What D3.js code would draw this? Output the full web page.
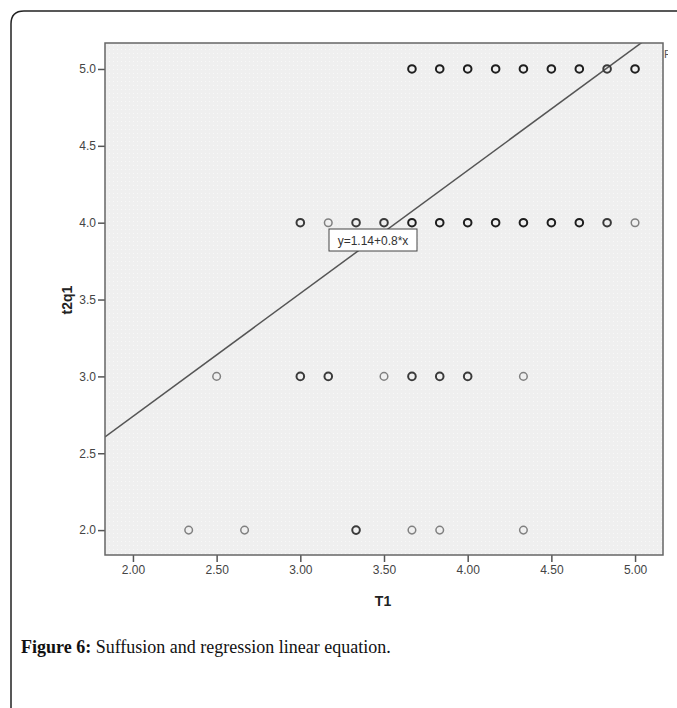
<!DOCTYPE html>
<html>
<head>
<meta charset="utf-8">
<script src="https://cdn.jsdelivr.net/npm/d3@7"></script>
<style>
  html, body { margin: 0; padding: 0; background: #fff; }
  svg { display: block; }
</style>
</head>
<body>
<svg id="chart" width="677" height="708"></svg>
<script>
// ---- Data ----
const yTickValues = [2.0, 2.5, 3.0, 3.5, 4.0, 4.5, 5.0];
const xTickValues = [2.0, 2.5, 3.0, 3.5, 4.0, 4.5, 5.0];
const xDomain = [1.833, 5.167];
const yDomain = [1.838, 5.169];

// T1 values of points per t2q1 level, with estimated overlap counts
const t1AtY5 = [3.667, 3.833, 4.0, 4.167, 4.333, 4.5, 4.667, 4.833, 5.0];
const nAtY5  = [3, 3, 4, 3, 4, 3, 3, 2, 3];
const t1AtY4 = [3.0, 3.167, 3.333, 3.5, 3.667, 3.833, 4.0, 4.167, 4.333, 4.5, 4.667, 4.833, 5.0];
const nAtY4  = [2, 1, 2, 2, 3, 3, 4, 3, 4, 3, 3, 2, 1];
const t1AtY3 = [2.5, 3.0, 3.167, 3.5, 3.667, 3.833, 4.0, 4.333];
const nAtY3  = [1, 2, 2, 1, 2, 2, 2, 1];
const t1AtY2 = [2.333, 2.667, 3.333, 3.667, 3.833, 4.333];
const nAtY2  = [1, 1, 2, 1, 1, 1];

const intercept = 1.14, slope = 0.8;
const eqLabel = "y=1.14+0.8*x";
const xTitle = "T1", yTitle = "t2q1";
const captionBold = "Figure 6:", captionText = " Suffusion and regression linear equation.";

const points = [];
[[5, t1AtY5, nAtY5], [4, t1AtY4, nAtY4], [3, t1AtY3, nAtY3], [2, t1AtY2, nAtY2]].forEach(([yv, xs, ns]) => {
  xs.forEach((xv, i) => points.push({x: xv, y: yv, n: ns[i]}));
});

// ---- Layout ----
const svg = d3.select("#chart");
const L = 105, R = 663, T = 43, B = 555;
const x = d3.scaleLinear().domain(xDomain).range([L, R]);
const y = d3.scaleLinear().domain(yDomain).range([B, T]);

// outer rounded frame (top-left corner)
svg.append("path")
  .attr("d", `M11,720 L11,24 Q11,11 24,11 L690,11`)
  .attr("fill", "none").attr("stroke", "#222").attr("stroke-width", 1.5);

// dotted pattern background
const defs = svg.append("defs");
const pat = defs.append("pattern").attr("id", "dots").attr("width", 4).attr("height", 4)
  .attr("patternUnits", "userSpaceOnUse");
pat.append("rect").attr("width", 4).attr("height", 4).attr("fill", "#efefef");
pat.append("rect").attr("x", 1).attr("y", 1).attr("width", 1).attr("height", 1).attr("fill", "#f8f8f8");

defs.append("clipPath").attr("id", "plotclip")
  .append("rect").attr("x", L).attr("y", T).attr("width", R - L).attr("height", B - T);
defs.append("clipPath").attr("id", "pageclip")
  .append("rect").attr("x", 0).attr("y", 0).attr("width", 668).attr("height", 708);

svg.append("rect").attr("x", L).attr("y", T).attr("width", R - L).attr("height", B - T)
  .attr("fill", "url(#dots)");

// axes
const yAxis = d3.axisLeft(y).tickValues(yTickValues).tickFormat(d3.format(".1f")).tickSize(7).tickPadding(2);
const xAxis = d3.axisBottom(x).tickValues(xTickValues).tickFormat(d3.format(".2f")).tickSize(7).tickPadding(3);

const gy = svg.append("g").attr("transform", `translate(${L},0)`).call(yAxis);
const gx = svg.append("g").attr("transform", `translate(0,${B})`).call(xAxis);
[gx, gy].forEach(g => {
  g.select(".domain").remove();
  g.selectAll(".tick line").attr("stroke", "#555").attr("stroke-width", 1.5);
  g.selectAll(".tick text").attr("fill", "#444")
    .style("font-family", "'Liberation Sans', Arial, sans-serif").style("font-size", "12px");
});

// regression line
const g = svg.append("g").attr("clip-path", "url(#plotclip)");
g.append("line")
  .attr("x1", x(xDomain[0])).attr("y1", y(intercept + slope * xDomain[0]))
  .attr("x2", x(xDomain[1])).attr("y2", y(intercept + slope * xDomain[1]))
  .attr("stroke", "#555").attr("stroke-width", 1.5);

// points
const strokeFor = n => n >= 3 ? "#1e1e1e" : (n === 2 ? "#3a3a3a" : "#808080");
g.selectAll("circle.pt").data(points).enter().append("circle")
  .attr("class", "pt")
  .attr("cx", d => x(d.x)).attr("cy", d => y(d.y)).attr("r", 3.8)
  .attr("fill", "none").attr("stroke", d => strokeFor(d.n))
  .attr("stroke-width", d => d.n >= 2 ? 2 : 1.5);

// plot frame
svg.append("rect").attr("x", L).attr("y", T).attr("width", R - L).attr("height", B - T)
  .attr("fill", "none").attr("stroke", "#666").attr("stroke-width", 1.5);

// equation label
const eqX = 329, eqY = 229;
svg.append("rect").attr("x", eqX).attr("y", eqY).attr("width", 88).attr("height", 22)
  .attr("fill", "#fff").attr("stroke", "#444").attr("stroke-width", 1);
svg.append("text").attr("x", eqX + 44).attr("y", eqY + 16).attr("text-anchor", "middle")
  .style("font-family", "'Liberation Sans', Arial, sans-serif").style("font-size", "12px")
  .attr("fill", "#333").text(eqLabel);

// partial "R" at the top right
svg.append("text").attr("x", 664).attr("y", 58).attr("clip-path", "url(#pageclip)")
  .style("font-family", "'Liberation Sans', Arial, sans-serif").style("font-size", "11px")
  .attr("fill", "#555").text("R");

// axis titles
svg.append("text").attr("x", 383).attr("y", 606).attr("text-anchor", "middle")
  .style("font-family", "'Liberation Sans', Arial, sans-serif").style("font-size", "14px")
  .style("font-weight", "bold").attr("fill", "#222").text(xTitle);
svg.append("text").attr("transform", `translate(72,300) rotate(-90)`).attr("text-anchor", "middle")
  .style("font-family", "'Liberation Sans', Arial, sans-serif").style("font-size", "14px")
  .style("font-weight", "bold").attr("fill", "#222").text(yTitle);

// caption
const cap = svg.append("text").attr("x", 21).attr("y", 653)
  .style("font-family", "'Liberation Serif', 'DejaVu Serif', serif").style("font-size", "18px")
  .attr("fill", "#111");
cap.append("tspan").style("font-weight", "bold").text(captionBold);
cap.append("tspan").text(captionText);
</script>
</body>
</html>
